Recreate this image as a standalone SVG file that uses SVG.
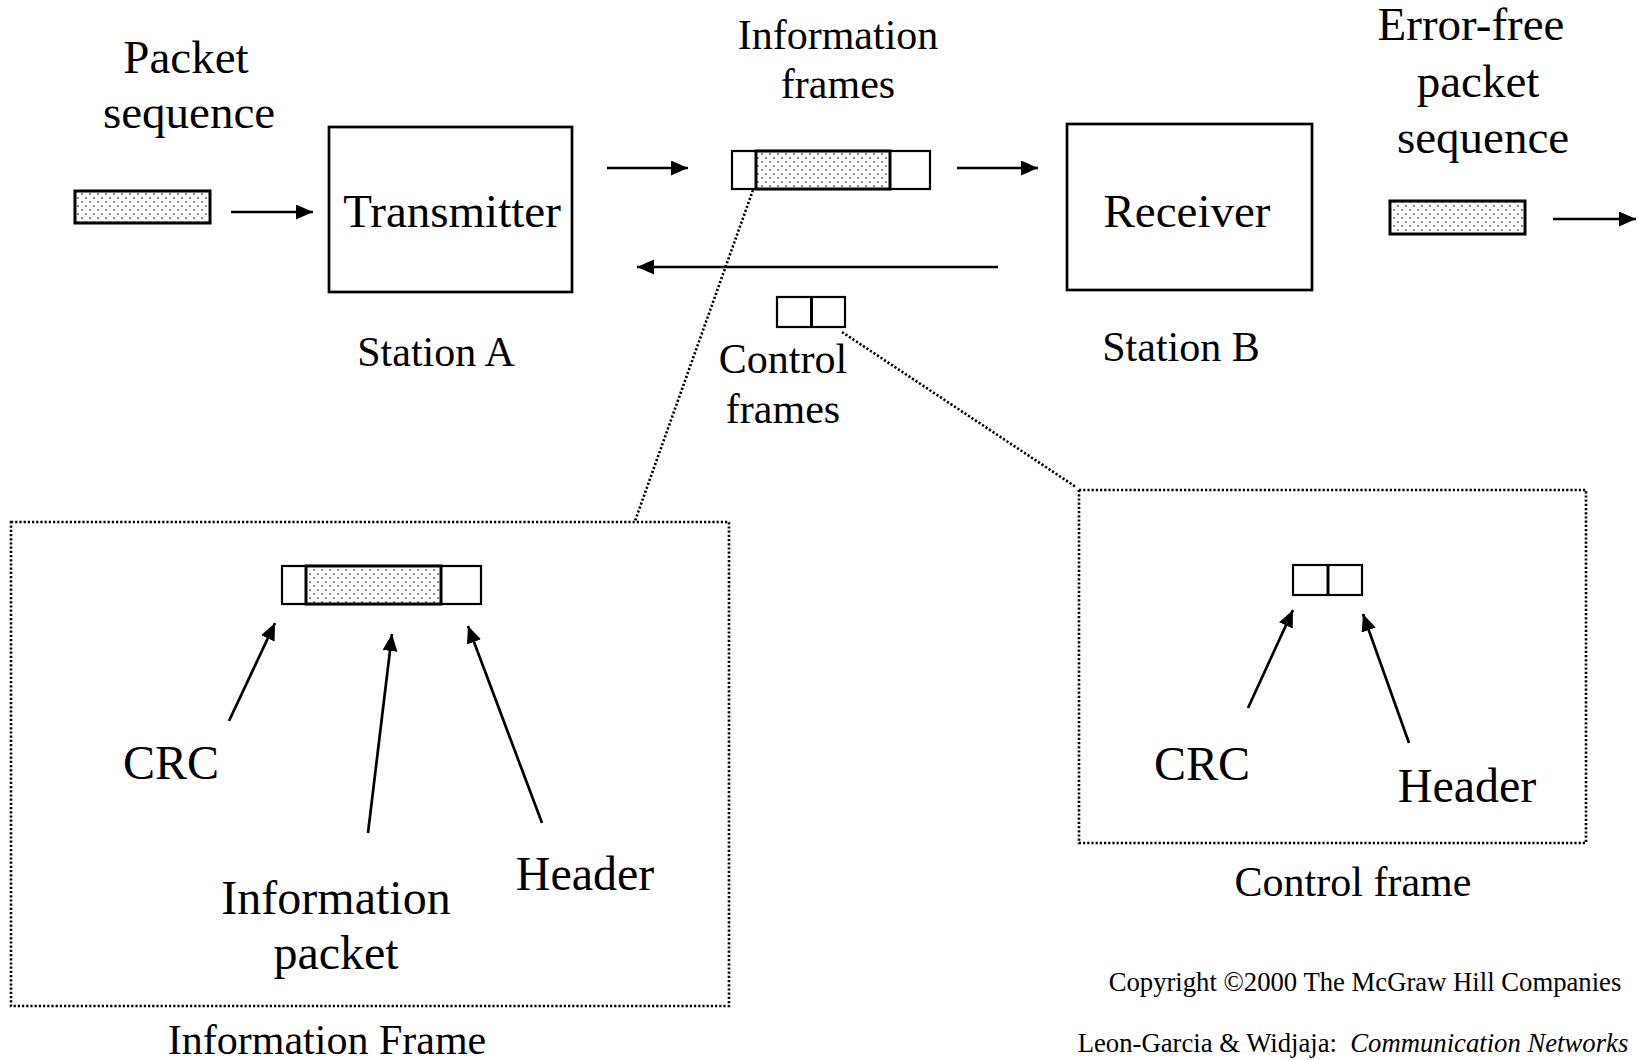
<svg xmlns="http://www.w3.org/2000/svg" width="1639" height="1060" viewBox="0 0 1639 1060">
<style>
text{font-family:"Liberation Serif","Times New Roman",serif;fill:#000;text-anchor:middle}
.big{font-size:47px}
.mid{font-size:42px}
.lab{font-size:48px}
.small{font-size:26.7px}
.box{fill:#fff;stroke:#000;stroke-width:2.7}
.frm{fill:#fff;stroke:#000;stroke-width:2.2}
.pk{fill:url(#dots);stroke:#000;stroke-width:3}
.dot{fill:none;stroke:#000;stroke-width:2.6;stroke-dasharray:2.2 2}
.arr{stroke:#000;stroke-width:2.7;fill:none;marker-end:url(#ah)}
</style>
<defs>
<pattern id="dots" width="8" height="8" patternUnits="userSpaceOnUse">
<rect width="8" height="8" fill="#fff"/>
<circle cx="2" cy="2" r="0.9" fill="#555"/>
<circle cx="6" cy="6" r="0.9" fill="#555"/>
</pattern>
<marker id="ah" markerUnits="userSpaceOnUse" markerWidth="18" markerHeight="16" refX="17" refY="7.5" orient="auto">
<path d="M0,0 L17,7.5 L0,15 z" fill="#000"/>
</marker>
</defs>
<rect width="1639" height="1060" fill="#fff"/>

<g id="packet-in">
<text class="big" x="186" y="73">Packet</text>
<text class="big" x="189" y="128">sequence</text>
<rect class="pk" x="75" y="191" width="135" height="32"/>
</g>

<g id="transmitter">
<rect class="box" x="329" y="127" width="243" height="165"/>
<text class="big" x="452" y="227">Transmitter</text>
<text class="mid" x="436" y="366">Station A</text>
</g>

<g id="info-frames">
<text class="mid" x="838" y="49">Information</text>
<text class="mid" x="838" y="98">frames</text>
<rect class="frm" x="732" y="151" width="198" height="38"/>
<rect class="pk" x="756" y="151" width="134" height="38"/>
</g>

<g id="control-frames">
<rect class="frm" x="777" y="297" width="68" height="30"/>
<line x1="811.5" y1="297" x2="811.5" y2="327" stroke="#000" stroke-width="3"/>
<text class="mid" x="783" y="373">Control</text>
<text class="mid" x="783" y="423">frames</text>
</g>

<g id="receiver">
<rect class="box" x="1067" y="124" width="245" height="166"/>
<text class="big" x="1187" y="227">Receiver</text>
<text class="mid" x="1181" y="361">Station B</text>
</g>

<g id="packet-out">
<text class="big" x="1471" y="40">Error-free</text>
<text class="big" x="1478" y="97">packet</text>
<text class="big" x="1483" y="153">sequence</text>
<rect class="pk" x="1390" y="201" width="135" height="33"/>
</g>

<g id="information-frame">
<rect class="dot" x="11" y="522" width="718" height="484"/>
<rect class="frm" x="282" y="566" width="199" height="38"/>
<rect class="pk" x="306" y="566" width="135" height="38"/>
<text class="lab" x="171" y="779">CRC</text>
<text class="lab" x="336" y="914">Information</text>
<text class="lab" x="336" y="969">packet</text>
<text class="lab" x="585" y="890">Header</text>
<text class="mid" x="327" y="1054">Information Frame</text>
</g>

<g id="control-frame">
<rect class="dot" x="1079" y="490" width="507" height="353"/>
<rect class="frm" x="1293" y="565" width="69" height="30"/>
<line x1="1328" y1="565" x2="1328" y2="595" stroke="#000" stroke-width="3"/>
<text class="lab" x="1202" y="780">CRC</text>
<text class="lab" x="1467" y="802">Header</text>
<text class="mid" x="1353" y="896">Control frame</text>
</g>

<g id="copyright">
<text class="small" x="1365" y="991">Copyright ©2000 The McGraw Hill Companies</text>
<text class="small" x="1353" y="1052" xml:space="preserve">Leon-Garcia &amp; Widjaja:  <tspan font-style="italic">Communication Networks</tspan></text>
</g>

<g id="connectors">
<line class="arr" x1="231" y1="212" x2="313" y2="212"/>
<line class="arr" x1="607" y1="168" x2="688" y2="168"/>
<line class="arr" x1="957" y1="168" x2="1038" y2="168"/>
<line class="arr" x1="998" y1="267" x2="637" y2="267"/>
<line class="arr" x1="1553" y1="219" x2="1636" y2="219"/>
<line class="arr" x1="229" y1="721" x2="275" y2="623"/>
<line class="arr" x1="368" y1="833" x2="392" y2="634"/>
<line class="arr" x1="542" y1="823" x2="468" y2="626"/>
<line class="arr" x1="1248" y1="708" x2="1293" y2="610"/>
<line class="arr" x1="1409" y1="743" x2="1363" y2="614"/>
<line class="dot" x1="753" y1="190" x2="635" y2="521"/>
<line class="dot" x1="842" y1="332" x2="1076" y2="487"/>
</g>
</svg>
